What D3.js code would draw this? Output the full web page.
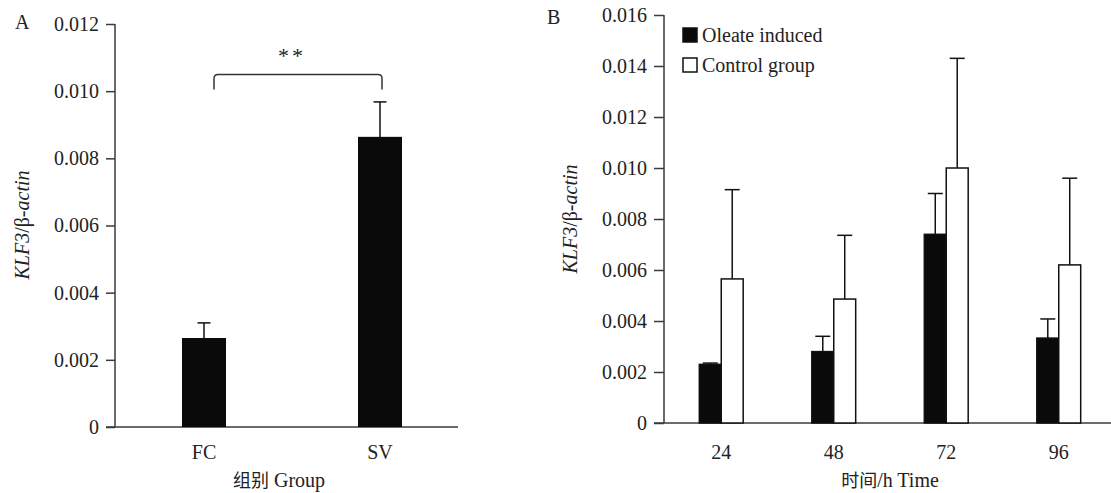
<!DOCTYPE html>
<html>
<head>
<meta charset="utf-8">
<script src="https://cdn.jsdelivr.net/npm/d3@7/dist/d3.min.js"></script>
<style>
  html, body { margin: 0; padding: 0; background: #fff; }
  svg { display: block; }
  text { font-family: "Liberation Serif", "Times New Roman", serif; fill: #222; }
  .cjk { font-family: "Noto Sans CJK SC", sans-serif; }
</style>
</head>
<body>
<svg id="chart" width="1111" height="493"></svg>
<script>
// ---- Panel A data ----
const groupsA = ["FC", "SV"];
const meansA = [0.00265, 0.00864];
const errorsA = [0.00045, 0.00104];
const ticksA = [0, 0.002, 0.004, 0.006, 0.008, 0.010, 0.012];

// ---- Panel B data ----
const times = ["24", "48", "72", "96"];
const seriesNames = ["Oleate induced", "Control group"];
const oleateMeans = [0.0023, 0.0028, 0.0074, 0.00333];
const oleateErrors = [0.00005, 0.0006, 0.0016, 0.00075];
const controlMeans = [0.00565, 0.00486, 0.0100, 0.0062];
const controlErrors = [0.0035, 0.0025, 0.0043, 0.0034];
const ticksB = [0, 0.002, 0.004, 0.006, 0.008, 0.010, 0.012, 0.014, 0.016];

const SERIF = '"Liberation Serif", "Times New Roman", serif';
const svg = d3.select("#chart");
const fmt = d => d === 0 ? "0" : d3.format(".3f")(d);
const AX = "#3a3a3a";
const FS = 20;

function yLabel(g, x, y) {
  const t = g.append("text")
    .attr("transform", `translate(${x},${y}) rotate(-90)`)
    .attr("text-anchor", "middle")
    .attr("dominant-baseline", "middle")
    .style("font-size", FS + "px");
  t.append("tspan").style("font-style", "italic").text("KLF3");
  t.append("tspan").text("/β-");
  t.append("tspan").style("font-style", "italic").text("actin");
}

function styleAxis(sel) {
  sel.attr("font-family", SERIF).attr("font-size", FS);
  sel.select(".domain").remove();
  sel.selectAll(".tick line").attr("stroke", AX).attr("stroke-width", 1.5);
  sel.selectAll(".tick text").attr("font-family", SERIF).style("font-family", SERIF)
    .style("font-size", FS + "px").attr("fill", "#222");
}

function errorBar(g, cx, yTop, yBase, cap) {
  g.append("line").attr("x1", cx).attr("x2", cx).attr("y1", yBase).attr("y2", yTop)
    .attr("stroke", "#111").attr("stroke-width", 1.5);
  g.append("line").attr("x1", cx - cap / 2).attr("x2", cx + cap / 2).attr("y1", yTop).attr("y2", yTop)
    .attr("stroke", "#111").attr("stroke-width", 1.5);
}

// ================= Panel A =================
{
  const g = svg.append("g");
  const y = d3.scaleLinear().domain([0, 0.012]).range([427, 24]);
  const x = d3.scaleBand().domain(groupsA).range([116, 468]).paddingInner(0.75).paddingOuter(0.375);
  const axisX0 = 115;

  const ay = g.append("g").attr("transform", `translate(${axisX0},0)`)
    .call(d3.axisLeft(y).tickValues(ticksA).tickFormat(fmt).tickSize(9).tickPadding(7));
  styleAxis(ay);
  g.append("line").attr("x1", axisX0).attr("x2", axisX0).attr("y1", y(0.012)).attr("y2", y(0))
    .attr("stroke", AX).attr("stroke-width", 1.5);
  g.append("line").attr("x1", axisX0 - 9).attr("x2", 458).attr("y1", y(0)).attr("y2", y(0))
    .attr("stroke", AX).attr("stroke-width", 1.5);

  groupsA.forEach((gname, i) => {
    const cx = x(gname) + x.bandwidth() / 2;
    errorBar(g, cx, y(meansA[i] + errorsA[i]), y(meansA[i]) + 2, 13);
    g.append("rect").attr("x", x(gname)).attr("width", x.bandwidth())
      .attr("y", y(meansA[i])).attr("height", y(0) - y(meansA[i]))
      .attr("fill", "#0a0a0a");
    g.append("text").attr("x", cx).attr("y", 459).attr("text-anchor", "middle")
      .style("font-size", FS + "px").text(gname);
  });

  // significance bracket
  const xl = x("FC") + x.bandwidth() / 2 + 10;
  const xr = x("SV") + x.bandwidth() / 2 + 2;
  const yt = y(0.0105), yb = y(0.01005);
  g.append("path")
    .attr("d", `M${xl},${yb} L${xl},${yt + 4} Q${xl},${yt} ${xl + 4},${yt} L${xr - 4},${yt} Q${xr},${yt} ${xr},${yt + 4} L${xr},${yb}`)
    .attr("fill", "none").attr("stroke", "#333").attr("stroke-width", 1.5);
  g.append("text").attr("x", (xl + xr) / 2 - 6).attr("y", 63).attr("text-anchor", "middle")
    .style("font-size", "22px").style("letter-spacing", "3px").text("**");

  g.append("text").attr("x", 15).attr("y", 29).style("font-size", FS + "px").text("A");
  yLabel(g, 24, 225);
  const xt = g.append("text").attr("x", 279).attr("y", 487).attr("text-anchor", "middle").style("font-size", FS + "px");
  xt.append("tspan").attr("class", "cjk").style("font-size", "18px").text("组别");
  xt.append("tspan").text(" Group");
}

// ================= Panel B =================
{
  const g = svg.append("g");
  const y = d3.scaleLinear().domain([0, 0.016]).range([423, 15]);
  const x0 = d3.scaleBand().domain(times).range([665, 1115]).paddingInner(0.61).paddingOuter(0.305);
  const x1 = d3.scaleBand().domain(seriesNames).range([0, x0.bandwidth()]);
  const axisX0 = 664;

  const ay = g.append("g").attr("transform", `translate(${axisX0},0)`)
    .call(d3.axisLeft(y).tickValues(ticksB).tickFormat(fmt).tickSize(10).tickPadding(7));
  styleAxis(ay);
  g.append("line").attr("x1", axisX0).attr("x2", axisX0).attr("y1", y(0.016)).attr("y2", y(0))
    .attr("stroke", AX).attr("stroke-width", 1.5);
  g.append("line").attr("x1", axisX0 - 10).attr("x2", 1111).attr("y1", y(0)).attr("y2", y(0))
    .attr("stroke", AX).attr("stroke-width", 1.5);

  const data = times.map((t, i) => ({
    time: t,
    vals: [
      { s: seriesNames[0], m: oleateMeans[i], e: oleateErrors[i], fill: "#0a0a0a" },
      { s: seriesNames[1], m: controlMeans[i], e: controlErrors[i], fill: "#fff" }
    ]
  }));

  data.forEach(d => {
    d.vals.forEach(v => {
      const bx = x0(d.time) + x1(v.s);
      const cx = bx + x1.bandwidth() / 2;
      errorBar(g, cx, y(v.m + v.e), y(v.m) + 2, 15);
      g.append("rect").attr("x", bx).attr("width", x1.bandwidth())
        .attr("y", y(v.m)).attr("height", y(0) - y(v.m))
        .attr("fill", v.fill).attr("stroke", "#111").attr("stroke-width", 1.5);
    });
    g.append("text").attr("x", x0(d.time) + x0.bandwidth() / 2).attr("y", 459)
      .attr("text-anchor", "middle").style("font-size", FS + "px").text(d.time);
  });

  // legend
  const leg = g.append("g");
  seriesNames.forEach((s, i) => {
    const ly = 28 + i * 30;
    leg.append("rect").attr("x", 683).attr("y", ly).attr("width", 14).attr("height", 14)
      .attr("fill", i === 0 ? "#0a0a0a" : "#fff").attr("stroke", "#111").attr("stroke-width", 1.5);
    leg.append("text").attr("x", 702).attr("y", ly + 14).style("font-size", FS + "px").text(s);
  });

  g.append("text").attr("x", 547).attr("y", 24).style("font-size", FS + "px").text("B");
  yLabel(g, 572, 219);
  const xt = g.append("text").attr("x", 890).attr("y", 487).attr("text-anchor", "middle").style("font-size", FS + "px");
  xt.append("tspan").attr("class", "cjk").style("font-size", "18px").text("时间");
  xt.append("tspan").text("/h Time");
}
</script>
</body>
</html>
